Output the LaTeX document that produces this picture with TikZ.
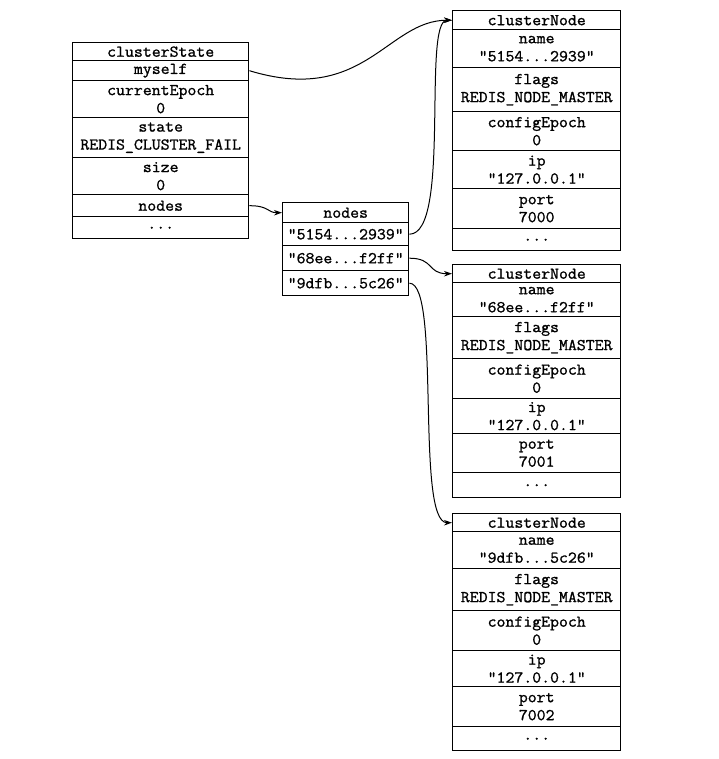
\documentclass[tikz,border=0pt]{standalone}
\usepackage{fontspec}
\setmonofont[FakeStretch=1.05, FakeBold=1.2]{Latin Modern Mono}
\usetikzlibrary{arrows.meta}
\begin{document}
\begin{tikzpicture}[x=1pt,y=-1pt,
  cell/.style={draw, line width=1.4pt, anchor=north west, inner sep=0pt, align=center,
    font=\ttfamily\fontsize{16.5}{18}\selectfont},
  csrow/.style={cell, minimum width=176pt},
  ndrow/.style={cell, minimum width=126pt},
  cnrow/.style={cell, minimum width=168pt},
  link/.style={line width=1pt, -{Stealth[length=8pt,width=5.5pt]}}]
\useasboundingbox (0,0) rectangle (718,759);

% clusterState
\node[csrow, minimum height=18pt] (cs-h) at (72,42) {clusterState};
\node[csrow, minimum height=20pt] (cs-myself) at (72,60) {myself};
\node[csrow, minimum height=37pt] (cs-epoch) at (72,80) {currentEpoch\\0};
\node[csrow, minimum height=40pt] (cs-state) at (72,117) {state\\REDIS\_CLUSTER\_FAIL};
\node[csrow, minimum height=37pt] (cs-size) at (72,157) {size\\0};
\node[csrow, minimum height=22pt] (cs-nodes) at (72,194) {nodes};
\node[csrow, minimum height=22pt] (cs-more) at (72,216) {...};

% nodes dict
\node[ndrow, minimum height=20pt] (nd-h) at (282,202) {nodes};
\node[ndrow, minimum height=23pt] (nd-a) at (282,222) {"5154...2939"};
\node[ndrow, minimum height=25pt] (nd-b) at (282,245) {"68ee...f2ff"};
\node[ndrow, minimum height=25pt] (nd-c) at (282,270) {"9dfb...5c26"};

% clusterNode 1
\node[cnrow, minimum height=19pt] (cn1-h) at (452,10) {clusterNode};
\node[cnrow, minimum height=38pt] (cn1-name) at (452,29) {name\\"5154...2939"};
\node[cnrow, minimum height=44pt] (cn1-flags) at (452,67) {flags\\REDIS\_NODE\_MASTER};
\node[cnrow, minimum height=39pt] (cn1-cfg) at (452,111) {configEpoch\\0};
\node[cnrow, minimum height=38pt] (cn1-ip) at (452,150) {ip\\"127.0.0.1"};
\node[cnrow, minimum height=40pt] (cn1-port) at (452,188) {port\\7000};
\node[cnrow, minimum height=22pt] (cn1-more) at (452,228) {...};

% clusterNode 2
\node[cnrow, minimum height=18pt] (cn2-h) at (452,264) {clusterNode};
\node[cnrow, minimum height=34pt] (cn2-name) at (452,282) {name\\"68ee...f2ff"};
\node[cnrow, minimum height=42pt] (cn2-flags) at (452,316) {flags\\REDIS\_NODE\_MASTER};
\node[cnrow, minimum height=40pt] (cn2-cfg) at (452,358) {configEpoch\\0};
\node[cnrow, minimum height=35pt] (cn2-ip) at (452,398) {ip\\"127.0.0.1"};
\node[cnrow, minimum height=39pt] (cn2-port) at (452,433) {port\\7001};
\node[cnrow, minimum height=25pt] (cn2-more) at (452,472) {...};

% clusterNode 3
\node[cnrow, minimum height=18pt] (cn3-h) at (452,513) {clusterNode};
\node[cnrow, minimum height=37pt] (cn3-name) at (452,531) {name\\"9dfb...5c26"};
\node[cnrow, minimum height=42pt] (cn3-flags) at (452,568) {flags\\REDIS\_NODE\_MASTER};
\node[cnrow, minimum height=40pt] (cn3-cfg) at (452,610) {configEpoch\\0};
\node[cnrow, minimum height=36pt] (cn3-ip) at (452,650) {ip\\"127.0.0.1"};
\node[cnrow, minimum height=40pt] (cn3-port) at (452,686) {port\\7002};
\node[cnrow, minimum height=24pt] (cn3-more) at (452,726) {...};

% connectors
\draw[link] (cs-myself.east) .. controls +(115,35) and +(-65,0) .. (cn1-h.west);
\draw[link] (cs-nodes.east) .. controls +(20,0) and +(-15,0) .. (nd-h.west);
\draw[link] (nd-a.east) .. controls +(42,0) and +(-30,0) .. (cn1-h.west);
\draw[link] (nd-b.east) .. controls +(25,0) and +(-25,0) .. (cn2-h.west);
\draw[link] (nd-c.east) .. controls +(32,0) and +(-37,0) .. (cn3-h.west);
\end{tikzpicture}
\end{document}
